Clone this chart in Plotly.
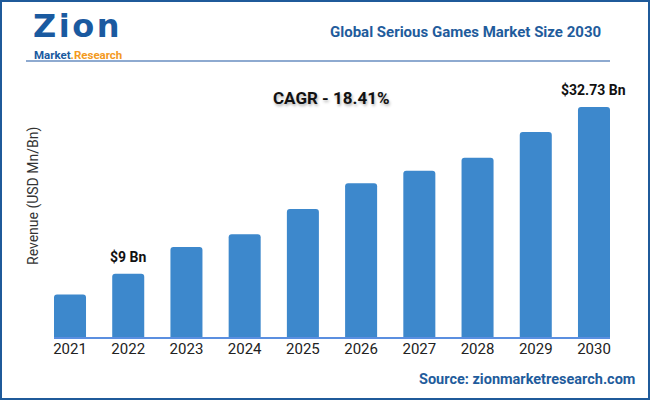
import plotly.graph_objects as go

years = ["2021", "2022", "2023", "2024", "2025", "2026", "2027", "2028", "2029", "2030"]
revenue = [6.05, 9.0, 12.81, 14.61, 18.22, 21.87, 23.67, 25.52, 29.17, 32.73]
labelled_years = ["2022", "2030"]
title_text = "Global Serious Games Market Size 2030"
cagr_text = "CAGR - 18.41%"
y_title = "Revenue (USD Mn/Bn)"
source_text = "Source: zionmarketresearch.com"

W, H = 650, 400
ML, MR, MT, MB = 54, 40, 91, 63
PW, PH = W - ML - MR, H - MT - MB

def px(x):
    return (x - ML) / PW

def py(y):
    return (H - MB - y) / PH

BLUE = "#3d88cc"
DARK = "#1f5c9c"
FONT = "Roboto"

fig = go.Figure(go.Bar(
    x=years, y=revenue, marker=dict(color=BLUE, line=dict(width=0)),
    hoverinfo="x+y",
))

annotations = []
for i, (yr, v) in enumerate(zip(years, revenue)):
    if yr in labelled_years:
        annotations.append(dict(
            x=i, y=v, xref="x", yref="y", text=f"${v:g} Bn", showarrow=False,
            yanchor="bottom", yshift=7,
            font=dict(family=FONT, size=14, color="#111111", weight="bold"),
        ))

annotations += [
    dict(x=px(603), y=py(32), xref="paper", yref="paper", text=title_text,
         showarrow=False, xanchor="right", yanchor="middle",
         font=dict(family=FONT, size=15, color=DARK, weight="bold")),
    dict(x=px(331), y=py(98), xref="paper", yref="paper", text=cagr_text,
         showarrow=False, xanchor="center", yanchor="middle",
         font=dict(family=FONT, size=17, color="#111111", weight="bold",
                   shadow="1px 2px 3px rgba(0,0,0,0.3)")),
    dict(x=px(33), y=py(196), xref="paper", yref="paper", text=y_title,
         showarrow=False, xanchor="center", yanchor="middle", textangle=-90,
         font=dict(family=FONT, size=14, color="#333333")),
    dict(x=px(637), y=py(379), xref="paper", yref="paper", text=source_text,
         showarrow=False, xanchor="right", yanchor="middle",
         font=dict(family=FONT, size=14.5, color=DARK, weight="bold")),
    dict(x=px(32), y=py(46.5), xref="paper", yref="paper",
         text="<span style='letter-spacing:2.5px'>Zion</span>",
         showarrow=False, xanchor="left", yanchor="bottom", borderpad=0,
         font=dict(family="DejaVu Sans", size=32, color="#1a5aa0", weight="bold")),
    dict(x=px(33), y=py(47), xref="paper", yref="paper",
         text="Market<span style='color:#f39a1e'>.Research</span>",
         showarrow=False, xanchor="left", yanchor="top", borderpad=0,
         font=dict(family=FONT, size=11.5, color="#1a5aa0", weight="bold")),
]

shapes = [
    dict(type="rect", xref="paper", yref="paper", x0=px(1), x1=px(649), y0=py(1), y1=py(399),
         line=dict(color="#1f5a9a", width=2), fillcolor="rgba(0,0,0,0)", layer="above"),
    dict(type="line", xref="paper", yref="paper", x0=px(26), x1=px(610), y0=py(61), y1=py(61),
         line=dict(color="#8eaad0", width=2)),
]

fig.update_layout(
    width=W, height=H,
    margin=dict(l=ML, r=MR, t=MT, b=MB, autoexpand=False),
    paper_bgcolor="white", plot_bgcolor="white",
    bargap=0.45, barcornerradius=3,
    showlegend=False,
    xaxis=dict(type="category", range=[-0.275, 9.275], showgrid=False,
               showline=True, linecolor="#5b8fe0", linewidth=1.5, ticks="",
               ticklabelstandoff=-3,
               tickfont=dict(family=FONT, size=15, color="#222222"), fixedrange=True),
    yaxis=dict(range=[0, 35], showgrid=False, showticklabels=False, zeroline=False,
               showline=False, fixedrange=True),
    annotations=annotations, shapes=shapes,
)

fig.write_html("out.html", config={"displayModeBar": False},
               post_script="document.body.style.margin='0';")
